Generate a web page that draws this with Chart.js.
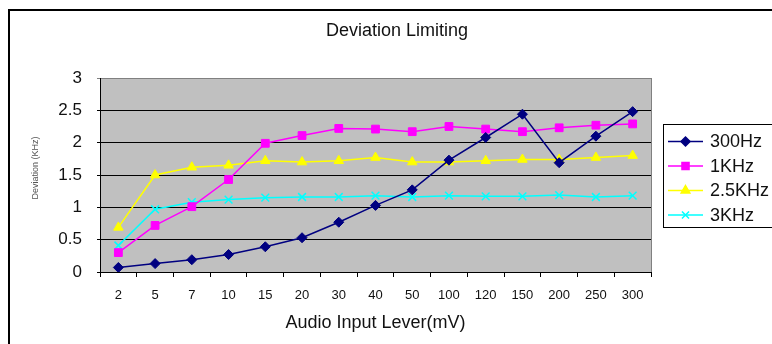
<!DOCTYPE html>
<html>
<head>
<meta charset="utf-8">
<script src="https://cdn.jsdelivr.net/npm/chart.js@4/dist/chart.umd.min.js"></script>
<style>
  html, body { margin: 0; padding: 0; background: #fff; }
  #c { display: block; }
</style>
</head>
<body>
<canvas id="c" width="772" height="344"></canvas>
<script>
const categories = ['2','5','7','10','15','20','30','40','50','100','120','150','200','250','300'];
const s300Hz  = [0.07,0.13,0.19,0.27,0.39,0.53,0.77,1.03,1.27,1.73,2.08,2.44,1.69,2.10,2.48];
const s1KHz   = [0.30,0.72,1.01,1.43,1.99,2.11,2.22,2.21,2.17,2.25,2.21,2.17,2.23,2.27,2.29];
const s2_5KHz = [0.69,1.50,1.62,1.65,1.72,1.70,1.72,1.77,1.70,1.70,1.72,1.74,1.74,1.77,1.80];
const s3KHz   = [0.41,0.97,1.08,1.12,1.15,1.16,1.16,1.18,1.16,1.18,1.17,1.17,1.19,1.16,1.18];
const seriesNames = ['300Hz','1KHz','2.5KHz','3KHz'];
const yTicks = [0,0.5,1,1.5,2,2.5,3];
const titleText = 'Deviation Limiting';
const xTitleText = 'Audio Input Lever(mV)';
const yTitleText = 'Deviation (KHz)';

const FONT = '"Liberation Sans", Arial, sans-serif';

function ds(label, data, color, style, radius) {
  return {
    label, data,
    borderColor: color, backgroundColor: color,
    borderWidth: 1.5,
    pointStyle: style, pointRadius: radius, pointHoverRadius: radius,
    pointBorderColor: color, pointBackgroundColor: color, pointBorderWidth: style === 'crossRot' ? 1.5 : 1,
    tension: 0
  };
}

const decor = {
  id: 'decor',
  beforeDraw(chart) {
    const ctx = chart.ctx, a = chart.chartArea;
    ctx.save();
    ctx.fillStyle = '#fff';
    ctx.fillRect(0, 0, chart.width, chart.height);
    // outer frame (top & left)
    ctx.fillStyle = '#000';
    ctx.fillRect(8, 9, 2, chart.height - 9);
    ctx.fillRect(8, 9, chart.width - 8, 2);
    // plot background
    ctx.fillStyle = '#C0C0C0';
    ctx.fillRect(a.left, a.top, a.right - a.left, a.bottom - a.top);
    // right border gray
    ctx.strokeStyle = '#808080';
    ctx.lineWidth = 1;
    ctx.beginPath();
    ctx.moveTo(a.right + 0.5, a.top);
    ctx.lineTo(a.right + 0.5, a.bottom);
    ctx.stroke();
    // title
    ctx.fillStyle = '#111';
    ctx.font = '18px ' + FONT;
    ctx.textAlign = 'center';
    ctx.textBaseline = 'middle';
    ctx.fillText(titleText, 397, 31);
    // x title
    ctx.fillText(xTitleText, (a.left + a.right) / 2, 323);
    // y title
    ctx.save();
    ctx.translate(36, 168);
    ctx.rotate(-Math.PI / 2);
    ctx.font = '9px ' + FONT;
    ctx.fillStyle = '#555';
    ctx.fillText(yTitleText, 0, 0);
    ctx.restore();
    ctx.restore();
  },
  afterDraw(chart) {
    const ctx = chart.ctx;
    ctx.save();
    // legend box
    ctx.strokeStyle = '#000';
    ctx.lineWidth = 1;
    ctx.fillStyle = '#fff';
    ctx.fillRect(663, 124, 120, 103);
    ctx.strokeRect(663.5, 124.5, 120, 103);
    const ys = [141.5, 166, 190.5, 215];
    chart.data.datasets.forEach((d, i) => {
      const y = ys[i];
      ctx.strokeStyle = d.borderColor;
      ctx.lineWidth = 1.5;
      ctx.beginPath();
      ctx.moveTo(668, y);
      ctx.lineTo(703, y);
      ctx.stroke();
      ctx.fillStyle = d.borderColor;
      ctx.strokeStyle = d.borderColor;
      Chart.helpers.drawPoint(ctx, {
        pointStyle: d.pointStyle, radius: d.pointRadius - 0.5, rotation: 0,
        borderWidth: d.pointBorderWidth
      }, 685.5, y);
      ctx.fillStyle = '#111';
      ctx.font = '18px ' + FONT;
      ctx.textAlign = 'left';
      ctx.textBaseline = 'middle';
      ctx.fillText(d.label, 710, y + 1);
    });
    ctx.restore();
  }
};

new Chart(document.getElementById('c'), {
  type: 'line',
  data: {
    labels: categories,
    datasets: [
      ds(seriesNames[0], s300Hz, '#000080', 'rectRot', 5),
      ds(seriesNames[1], s1KHz, '#FF00FF', 'rect', 5.5),
      ds(seriesNames[2], s2_5KHz, '#FFFF00', 'triangle', 5.5),
      ds(seriesNames[3], s3KHz, '#00FFFF', 'crossRot', 5.5)
    ]
  },
  options: {
    responsive: false,
    animation: false,
    events: [],
    layout: { padding: { left: 0, right: 121, top: 78, bottom: 0 } },
    plugins: { legend: { display: false }, title: { display: false }, tooltip: { enabled: false } },
    scales: {
      x: {
        offset: true,
        afterFit(s) { s.height = 72; },
        grid: { offset: true, drawOnChartArea: false, drawTicks: true, tickLength: 5, color: '#000' },
        border: { color: '#000', width: 1 },
        ticks: { color: '#111', font: { family: FONT, size: 13 }, padding: 11, maxRotation: 0, autoSkip: false }
      },
      y: {
        min: 0, max: 3,
        afterFit(s) { s.width = 100; },
        afterBuildTicks(s) { s.ticks = yTicks.map(v => ({ value: v })); },
        grid: {
          color: (c) => (c.tick && c.tick.value === 3) ? '#808080' : '#000',
          tickLength: 3, drawTicks: true
        },
        border: { color: '#000', width: 1 },
        ticks: { color: '#111', font: { family: FONT, size: 17 }, padding: 15, callback: (v) => String(v) }
      }
    }
  },
  plugins: [decor]
});
</script>
</body>
</html>
